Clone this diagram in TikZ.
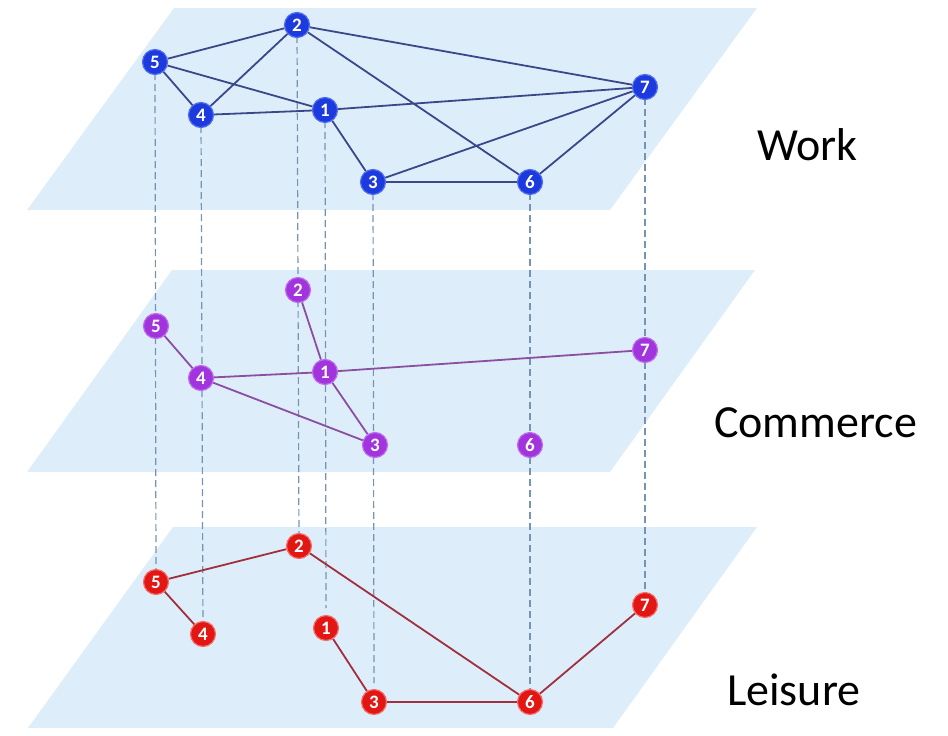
\documentclass[tikz,border=0pt]{standalone}
\usepackage{fontspec}
\setmainfont{Carlito}
\definecolor{planefill}{RGB}{221,238,250}
\definecolor{bluenode}{RGB}{28,58,222}
\definecolor{bluering}{RGB}{80,110,240}
\definecolor{purplenode}{RGB}{162,52,222}
\definecolor{purplering}{RGB}{190,110,235}
\definecolor{rednode}{RGB}{226,22,18}
\definecolor{redring}{RGB}{245,110,110}
\definecolor{blueedge}{RGB}{58,72,138}
\definecolor{purpleedge}{RGB}{140,78,160}
\definecolor{rededge}{RGB}{160,48,62}
\definecolor{dashcol}{RGB}{118,148,178}
\begin{document}
\begin{tikzpicture}[x=1pt,y=-1pt,
  plane/.style={fill=planefill,draw=none},
  vnode/.style={circle,minimum size=25pt,inner sep=0pt,line width=1.2pt,text=white,font=\bfseries\fontsize{19}{19}\selectfont},
  bn/.style={vnode,fill=bluenode,draw=bluering},
  pn/.style={vnode,fill=purplenode,draw=purplering},
  rn/.style={vnode,fill=rednode,draw=redring},
  be/.style={draw=blueedge,line width=1.8pt},
  pe/.style={draw=purpleedge,line width=1.8pt},
  re/.style={draw=rededge,line width=1.8pt},
  vdash/.style={draw=dashcol,line width=1.2pt,dash pattern=on 7pt off 4pt},
  layerlabel/.style={anchor=base west,inner sep=0pt,font=\fontsize{46}{46}\selectfont}]
\useasboundingbox (0,0) rectangle (948,736);
% planes
\fill[plane] (27,210) -- (610,210) -- (757,8) -- (174,8) -- cycle;
\fill[plane] (27,472) -- (610,472) -- (755,270) -- (172,270) -- cycle;
\fill[plane] (28,728) -- (613,728) -- (757,527) -- (173,527) -- cycle;
% node positions
\path
  (297,25) coordinate (t2) (155,62) coordinate (t5) (201,115) coordinate (t4)
  (325,110) coordinate (t1) (645,87) coordinate (t7) (373,182) coordinate (t3)
  (530,182) coordinate (t6)
  (298,290) coordinate (m2) (156,326) coordinate (m5) (201,378) coordinate (m4)
  (325,372) coordinate (m1) (645,350) coordinate (m7) (375,445) coordinate (m3)
  (530,445) coordinate (m6)
  (299,546) coordinate (b2) (156,582) coordinate (b5) (203,634) coordinate (b4)
  (326,628) coordinate (b1) (645,605) coordinate (b7) (374,702) coordinate (b3)
  (530,702) coordinate (b6);
% dashed vertical links
\draw[vdash] (t5) -- (b5);
\draw[vdash] (t4) -- (b4);
\draw[vdash] (t2) -- (b2);
\draw[vdash] (t1) -- ([yshift=20pt]b1);
\draw[vdash] (t3) -- ([yshift=19pt]b3);
\draw[vdash] (t6) -- (b6);
\draw[vdash] (t7) -- (b7);
% nodes
\node[bn] (T2) at (t2) {2}; \node[bn] (T5) at (t5) {5}; \node[bn] (T4) at (t4) {4};
\node[bn] (T1) at (t1) {1}; \node[bn] (T7) at (t7) {7}; \node[bn] (T3) at (t3) {3};
\node[bn] (T6) at (t6) {6};
\node[pn] (M2) at (m2) {2}; \node[pn] (M5) at (m5) {5}; \node[pn] (M4) at (m4) {4};
\node[pn] (M1) at (m1) {1}; \node[pn] (M7) at (m7) {7}; \node[pn] (M3) at (m3) {3};
\node[pn] (M6) at (m6) {6};
\node[rn] (B2) at (b2) {2}; \node[rn] (B5) at (b5) {5}; \node[rn] (B4) at (b4) {4};
\node[rn] (B1) at (b1) {1}; \node[rn] (B7) at (b7) {7}; \node[rn] (B3) at (b3) {3};
\node[rn] (B6) at (b6) {6};
% edges
\path[be] (T5) -- (T2) (T5) -- (T4) (T5) -- (T1) (T2) -- (T4) (T2) -- (T7)
  (T2) -- (T6) (T4) -- (T1) (T1) -- (T7) (T1) -- (T3) (T3) -- (T7)
  (T3) -- (T6) (T6) -- (T7);
\path[pe] (M5) -- (M4) (M4) -- (M1) (M4) -- (M3) (M2) -- (M1) (M1) -- (M3)
  (M1) -- (M7);
\path[re] (B5) -- (B2) (B5) -- (B4) (B2) -- (B6) (B1) -- (B3) (B3) -- (B6)
  (B6) -- (B7);
% labels
\node[layerlabel] (lw) at (757,160) {Work};
\node[layerlabel] (lc) at (714,437) {Commerce};
\node[layerlabel] (ll) at (727,705) {Leisure};
\end{tikzpicture}
\end{document}
